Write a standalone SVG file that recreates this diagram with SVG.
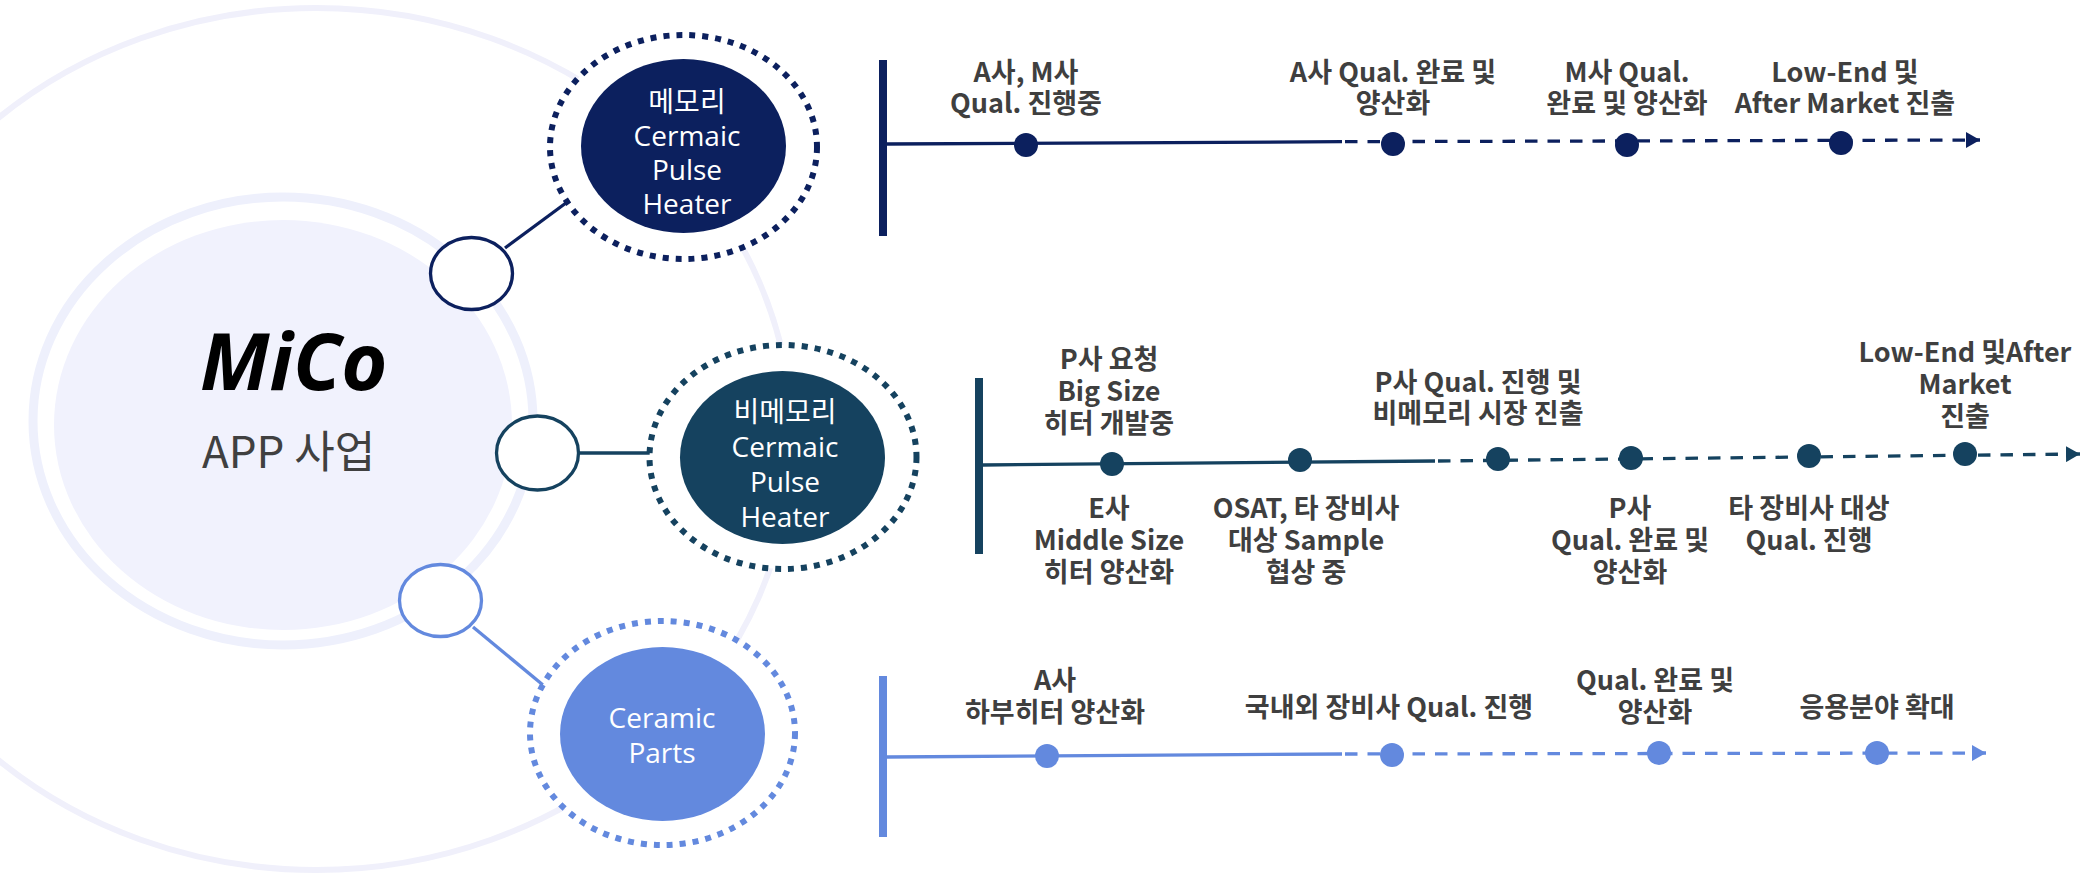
<svg xmlns="http://www.w3.org/2000/svg" width="2093" height="874" viewBox="0 0 2093 874">
<defs>
<style>
.tl{font-family:"Noto Sans CJK KR","Noto Sans",sans-serif;font-weight:700;font-size:27px;fill:#3F3F3F;text-anchor:middle}
.nt{font-family:"Open Sans","Noto Sans CJK KR",sans-serif;font-size:28px;fill:#FFFFFF;text-anchor:middle}
.ring{fill:#FFFFFF;stroke-width:6;stroke-dasharray:6 7}
.sm{fill:#FFFFFF;stroke-width:3.3}
.c1{stroke:#0C205E}.c2{stroke:#15425F}.c3{stroke:#6389DE}
.f1{fill:#0C205E}.f2{fill:#15425F}.f3{fill:#6389DE}
.bar{stroke-width:8}
.solid{stroke-width:3.3;fill:none}
.dash{stroke-width:3.3;fill:none;stroke-dasharray:12.5 10}
.link{stroke-width:3.3}
</style>
<marker id="a1" viewBox="0 0 14 16" markerUnits="userSpaceOnUse" markerWidth="14" markerHeight="16" refX="14" refY="8" orient="auto"><path d="M0,0 L14,8 L0,16 Z" fill="#0C205E"/></marker>
<marker id="a2" viewBox="0 0 14 16" markerUnits="userSpaceOnUse" markerWidth="14" markerHeight="16" refX="14" refY="8" orient="auto"><path d="M0,0 L14,8 L0,16 Z" fill="#15425F"/></marker>
<marker id="a3" viewBox="0 0 14 16" markerUnits="userSpaceOnUse" markerWidth="14" markerHeight="16" refX="14" refY="8" orient="auto"><path d="M0,0 L14,8 L0,16 Z" fill="#6389DE"/></marker>
</defs>
<rect x="0" y="0" width="2093" height="874" fill="#FFFFFF"/>

<g id="center">
<ellipse cx="316" cy="439" rx="476" ry="431" fill="none" stroke="#F0F0FB" stroke-width="6"/>
<ellipse cx="283" cy="421" rx="250" ry="224" fill="none" stroke="#EEF0FC" stroke-width="9"/>
<ellipse cx="283" cy="425" rx="229" ry="205" fill="#F1F2FD"/>
<text x="200" y="390" font-family="'Open Sans','Noto Sans',sans-serif" font-weight="700" font-style="italic" font-size="79" fill="#000000">MiCo</text>
<text x="202" y="468" font-family="'Noto Sans CJK KR',sans-serif" font-size="44" fill="#404040">APP 사업</text>
</g>

<g id="connectors">
<line class="link c1" x1="505" y1="248" x2="570" y2="200"/>
<line class="link c2" x1="580" y1="453" x2="652" y2="453"/>
<line class="link c3" x1="473" y1="627" x2="543" y2="685"/>
<ellipse class="sm c1" cx="471.5" cy="273.5" rx="41" ry="36"/>
<ellipse class="sm c2" cx="537.5" cy="453" rx="41" ry="37"/>
<ellipse class="sm c3" cx="440.5" cy="600.5" rx="41" ry="36"/>
</g>

<g id="node-memory">
<ellipse class="ring c1" cx="683.5" cy="147" rx="133.5" ry="112"/>
<ellipse class="f1" cx="683.5" cy="146" rx="102.5" ry="87"/>
<text class="nt" x="687" y="112">메모리</text>
<text class="nt" x="687" y="146">Cermaic</text>
<text class="nt" x="687" y="180">Pulse</text>
<text class="nt" x="687" y="214">Heater</text>
</g>

<g id="node-nonmemory">
<ellipse class="ring c2" cx="783" cy="457" rx="133.5" ry="112"/>
<ellipse class="f2" cx="782.5" cy="457.5" rx="102.5" ry="86.5"/>
<text class="nt" x="785" y="422">비메모리</text>
<text class="nt" x="785" y="457">Cermaic</text>
<text class="nt" x="785" y="492">Pulse</text>
<text class="nt" x="785" y="527">Heater</text>
</g>

<g id="node-ceramic">
<ellipse class="ring c3" cx="662.5" cy="733" rx="132.5" ry="112"/>
<ellipse class="f3" cx="662.5" cy="734" rx="102.5" ry="87"/>
<text class="nt" x="662" y="728">Ceramic</text>
<text class="nt" x="662" y="763">Parts</text>
</g>

<g id="timeline-memory">
<line class="bar c1" x1="883" y1="60" x2="883" y2="236"/>
<line class="solid c1" x1="887" y1="144" x2="1342" y2="141.7"/>
<line class="dash c1" x1="1345" y1="141.7" x2="1980" y2="140" marker-end="url(#a1)"/>
<circle class="f1" cx="1026" cy="145" r="12"/>
<circle class="f1" cx="1393" cy="144" r="12"/>
<circle class="f1" cx="1627" cy="145" r="12"/>
<circle class="f1" cx="1841" cy="143" r="12"/>
<text class="tl" x="1026" y="82">A사, M사</text>
<text class="tl" x="1026" y="113">Qual. 진행중</text>
<text class="tl" x="1393" y="82">A사 Qual. 완료 및</text>
<text class="tl" x="1393" y="113">양산화</text>
<text class="tl" x="1627" y="82">M사 Qual.</text>
<text class="tl" x="1627" y="113">완료 및 양산화</text>
<text class="tl" x="1845" y="82">Low-End 및</text>
<text class="tl" x="1845" y="113">After Market 진출</text>
</g>

<g id="timeline-nonmemory">
<line class="bar c2" x1="979" y1="378" x2="979" y2="554"/>
<line class="solid c2" x1="983" y1="465" x2="1435" y2="461"/>
<line class="dash c2" x1="1438" y1="461" x2="2080" y2="454" marker-end="url(#a2)"/>
<circle class="f2" cx="1112" cy="464" r="12"/>
<circle class="f2" cx="1300" cy="460" r="12"/>
<circle class="f2" cx="1498" cy="459" r="12"/>
<circle class="f2" cx="1631" cy="458" r="12"/>
<circle class="f2" cx="1809" cy="456" r="12"/>
<circle class="f2" cx="1965" cy="454" r="12"/>
<text class="tl" x="1109" y="369">P사 요청</text>
<text class="tl" x="1109" y="401">Big Size</text>
<text class="tl" x="1109" y="433">히터 개발중</text>
<text class="tl" x="1478" y="392">P사 Qual. 진행 및</text>
<text class="tl" x="1478" y="423">비메모리 시장 진출</text>
<text class="tl" x="1965" y="362">Low-End 및After</text>
<text class="tl" x="1965" y="394">Market</text>
<text class="tl" x="1965" y="426">진출</text>
<text class="tl" x="1109" y="518">E사</text>
<text class="tl" x="1109" y="550">Middle Size</text>
<text class="tl" x="1109" y="582">히터 양산화</text>
<text class="tl" x="1306" y="518">OSAT, 타 장비사</text>
<text class="tl" x="1306" y="550">대상 Sample</text>
<text class="tl" x="1306" y="582">협상 중</text>
<text class="tl" x="1630" y="518">P사</text>
<text class="tl" x="1630" y="550">Qual. 완료 및</text>
<text class="tl" x="1630" y="582">양산화</text>
<text class="tl" x="1809" y="518">타 장비사 대상</text>
<text class="tl" x="1809" y="550">Qual. 진행</text>
</g>

<g id="timeline-ceramic">
<line class="bar c3" x1="883" y1="676" x2="883" y2="837"/>
<line class="solid c3" x1="887" y1="757" x2="1342" y2="754"/>
<line class="dash c3" x1="1345" y1="754" x2="1986" y2="753" marker-end="url(#a3)"/>
<circle class="f3" cx="1047" cy="756" r="12"/>
<circle class="f3" cx="1392" cy="755" r="12"/>
<circle class="f3" cx="1659" cy="753" r="12"/>
<circle class="f3" cx="1877" cy="753" r="12"/>
<text class="tl" x="1055" y="690">A사</text>
<text class="tl" x="1055" y="722">하부히터 양산화</text>
<text class="tl" x="1389" y="717">국내외 장비사 Qual. 진행</text>
<text class="tl" x="1655" y="690">Qual. 완료 및</text>
<text class="tl" x="1655" y="722">양산화</text>
<text class="tl" x="1877" y="717">응용분야 확대</text>
</g>
</svg>
